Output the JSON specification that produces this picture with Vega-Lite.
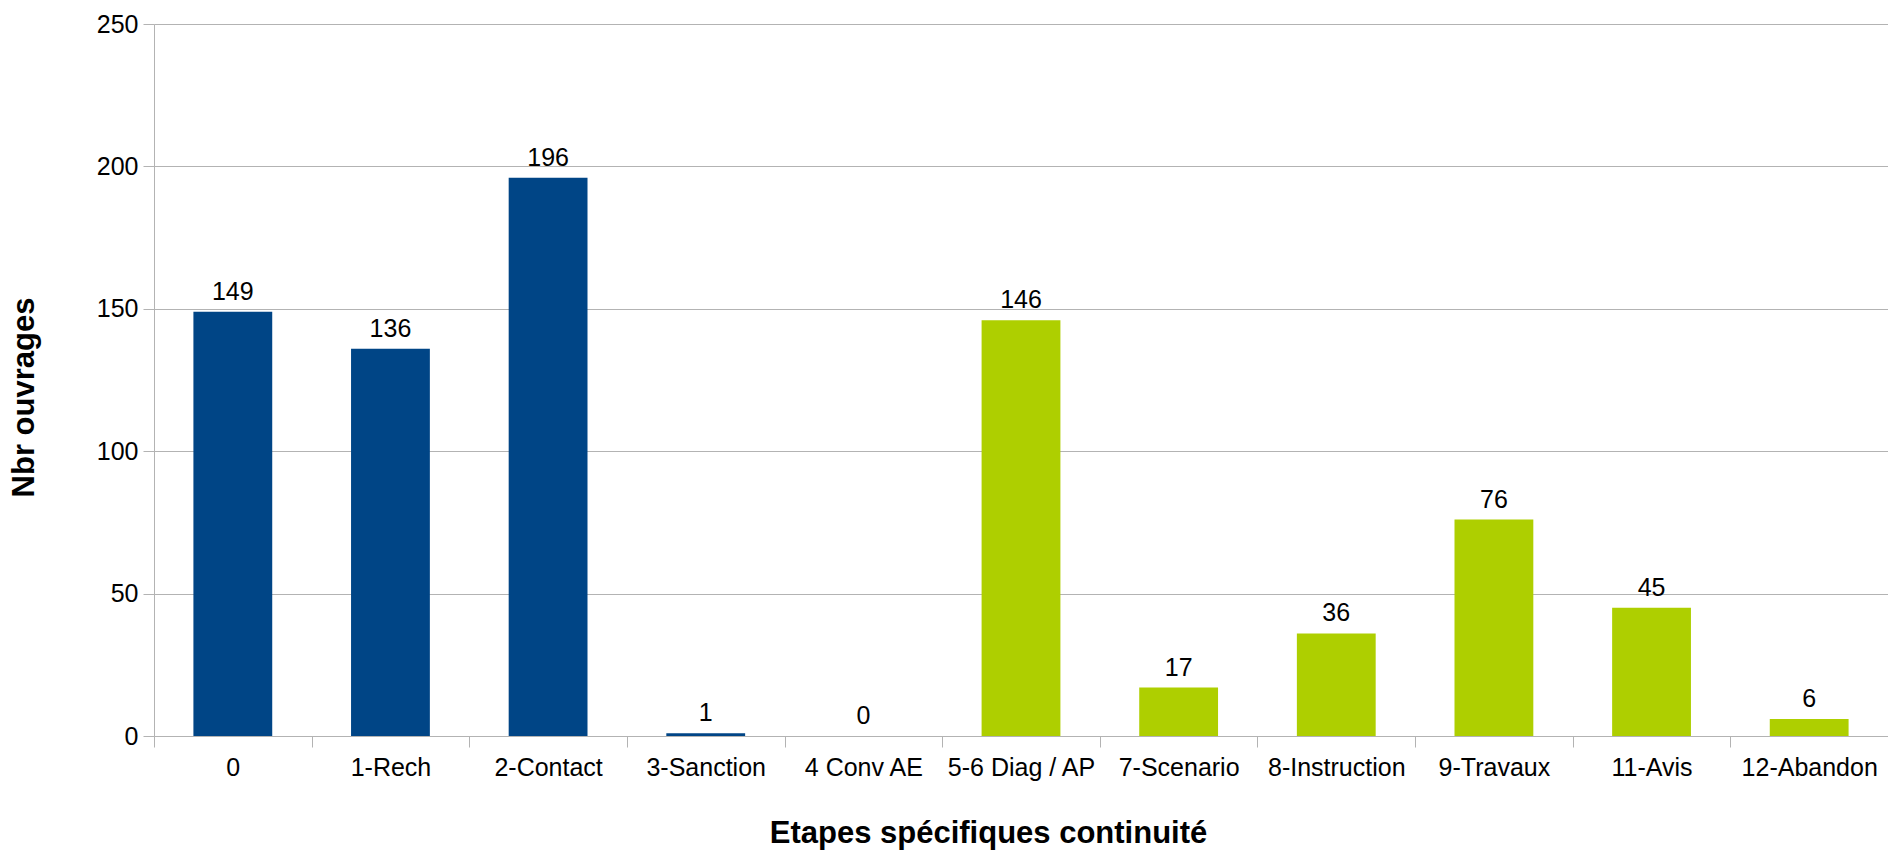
{
  "$schema": "https://vega.github.io/schema/vega-lite/v6.json",
  "width": 1734,
  "height": 712,
  "autosize": {"type": "none"},
  "padding": {"left": 154, "top": 24, "right": 0, "bottom": 119},
  "background": "white",
  "config": {
    "view": {"stroke": null},
    "font": "Liberation Sans"
  },
  "data": {
    "values": [
      {"etape": "0", "nbr": 149, "groupe": "A"},
      {"etape": "1-Rech", "nbr": 136, "groupe": "A"},
      {"etape": "2-Contact", "nbr": 196, "groupe": "A"},
      {"etape": "3-Sanction", "nbr": 1, "groupe": "A"},
      {"etape": "4 Conv AE", "nbr": 0, "groupe": "A"},
      {"etape": "5-6 Diag / AP", "nbr": 146, "groupe": "B"},
      {"etape": "7-Scenario", "nbr": 17, "groupe": "B"},
      {"etape": "8-Instruction", "nbr": 36, "groupe": "B"},
      {"etape": "9-Travaux", "nbr": 76, "groupe": "B"},
      {"etape": "11-Avis", "nbr": 45, "groupe": "B"},
      {"etape": "12-Abandon", "nbr": 6, "groupe": "B"}
    ]
  },
  "encoding": {
    "x": {
      "field": "etape",
      "type": "nominal",
      "sort": null,
      "scale": {"paddingInner": 0.5, "paddingOuter": 0.25},
      "axis": {
        "title": "Etapes spécifiques continuité",
        "titleFont": "Liberation Sans",
        "titleFontSize": 31,
        "titleFontWeight": "bold",
        "titleColor": "black",
        "titlePadding": 38,
        "titleX": 834,
        "titleAlign": "center",
        "labelAngle": 0,
        "labelFont": "Liberation Sans",
        "labelFontSize": 25,
        "labelColor": "black",
        "labelPadding": 8,
        "labelLimit": 0,
        "labelOverlap": false,
        "domainColor": "#b3b3b3",
        "tickColor": "#b3b3b3",
        "tickSize": 11,
        "tickOffset": -78.8,
        "labelOffset": 78.8,
        "grid": false
      }
    },
    "y": {
      "field": "nbr",
      "type": "quantitative",
      "scale": {"domain": [0, 250], "nice": false},
      "axis": {
        "title": "Nbr ouvrages",
        "titleFont": "Liberation Sans",
        "titleFontSize": 31,
        "titleFontWeight": "bold",
        "titleColor": "black",
        "titlePadding": 56,
        "titleY": 373,
        "values": [0, 50, 100, 150, 200, 250],
        "labelFont": "Liberation Sans",
        "labelFontSize": 25,
        "labelColor": "black",
        "labelPadding": 5,
        "domainColor": "#b3b3b3",
        "tickColor": "#b3b3b3",
        "tickSize": 11,
        "grid": true,
        "gridColor": "#b3b3b3",
        "gridWidth": 1
      }
    }
  },
  "layer": [
    {
      "mark": {"type": "bar"},
      "encoding": {
        "color": {
          "field": "groupe",
          "type": "nominal",
          "scale": {"domain": ["A", "B"], "range": ["#004586", "#aecf00"]},
          "legend": null
        }
      }
    },
    {
      "mark": {
        "type": "text",
        "font": "Liberation Sans",
        "fontSize": 25,
        "color": "black",
        "baseline": "alphabetic",
        "dy": -12
      },
      "encoding": {
        "text": {"field": "nbr", "type": "quantitative"}
      }
    }
  ]
}
